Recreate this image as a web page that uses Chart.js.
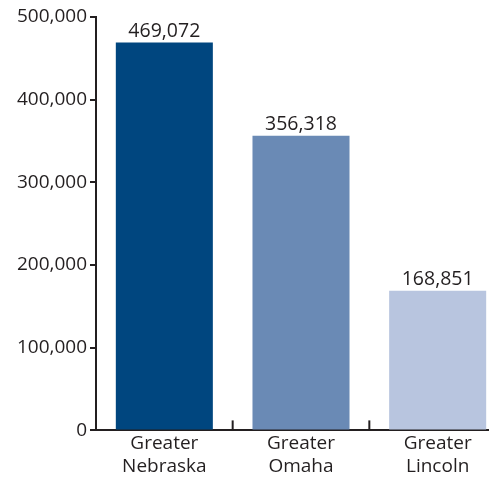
<!DOCTYPE html>
<html>
<head>
<meta charset="utf-8">
<script src="https://cdn.jsdelivr.net/npm/chart.js@4"></script>
<style>
  html, body { margin: 0; padding: 0; background: #fff; overflow: hidden; }
  #wrap { width: 506px; height: 482px; }
</style>
</head>
<body>
<div id="wrap"><canvas id="myChart" width="506" height="482"></canvas></div>
<script>
const categories = [["Greater", "Nebraska"], ["Greater", "Omaha"], ["Greater", "Lincoln"]];
const population = [469072, 356318, 168851];
const barColors = ["#00467f", "#6a8ab5", "#b8c5df"];
const yTicks = [0, 100000, 200000, 300000, 400000, 500000];

const ink = "#231f20";
const fontFamily = "'Open Sans', sans-serif";

// value labels over the bars
const valueLabels = {
  id: "valueLabels",
  afterDatasetsDraw(chart) {
    const { ctx } = chart;
    const meta = chart.getDatasetMeta(0);
    ctx.save();
    ctx.font = "19.5px " + fontFamily;
    ctx.fillStyle = ink;
    ctx.textAlign = "center";
    ctx.textBaseline = "alphabetic";
    meta.data.forEach((bar, i) => {
      ctx.fillText(population[i].toLocaleString("en-US"), bar.x, bar.y - 6);
    });
    ctx.restore();
  }
};

// short upward ticks between categories on the x axis
const innerTicks = {
  id: "innerTicks",
  afterDraw(chart) {
    const { ctx } = chart;
    const x = chart.scales.x;
    const y0 = chart.scales.y.getPixelForValue(0);
    ctx.save();
    ctx.strokeStyle = ink;
    ctx.lineWidth = 2;
    for (let i = 0; i < categories.length - 1; i++) {
      const px = (x.getPixelForValue(i) + x.getPixelForValue(i + 1)) / 2;
      ctx.beginPath();
      ctx.moveTo(px, y0);
      ctx.lineTo(px, y0 - 10);
      ctx.stroke();
    }
    ctx.restore();
  }
};

new Chart(document.getElementById("myChart"), {
  type: "bar",
  data: {
    labels: categories,
    datasets: [{
      data: population,
      backgroundColor: barColors,
      borderWidth: 0,
      barPercentage: 0.71,
      categoryPercentage: 1
    }]
  },
  options: {
    responsive: false,
    animation: false,
    layout: { padding: { top: 17, right: 0, bottom: 2, left: 0 } },
    scales: {
      x: {
        grid: { display: false, drawTicks: false },
        border: { color: ink, width: 2 },
        ticks: {
          color: ink,
          font: { family: fontFamily, size: 19 },
          padding: 2,
          maxRotation: 0
        }
      },
      y: {
        min: 0,
        max: 500000,
        afterBuildTicks: (s) => { s.ticks = yTicks.map(v => ({ value: v })); },
        afterFit: (s) => { s.width = 96; },
        grid: { drawOnChartArea: false, drawTicks: true, tickLength: 6, color: ink, lineWidth: 2 },
        border: { color: ink, width: 2 },
        ticks: {
          color: ink,
          font: { family: fontFamily, size: 19 },
          padding: 3,
          callback: (v) => v.toLocaleString("en-US")
        }
      }
    },
    plugins: {
      legend: { display: false },
      tooltip: { enabled: false }
    }
  },
  plugins: [valueLabels, innerTicks]
});
</script>
</body>
</html>
